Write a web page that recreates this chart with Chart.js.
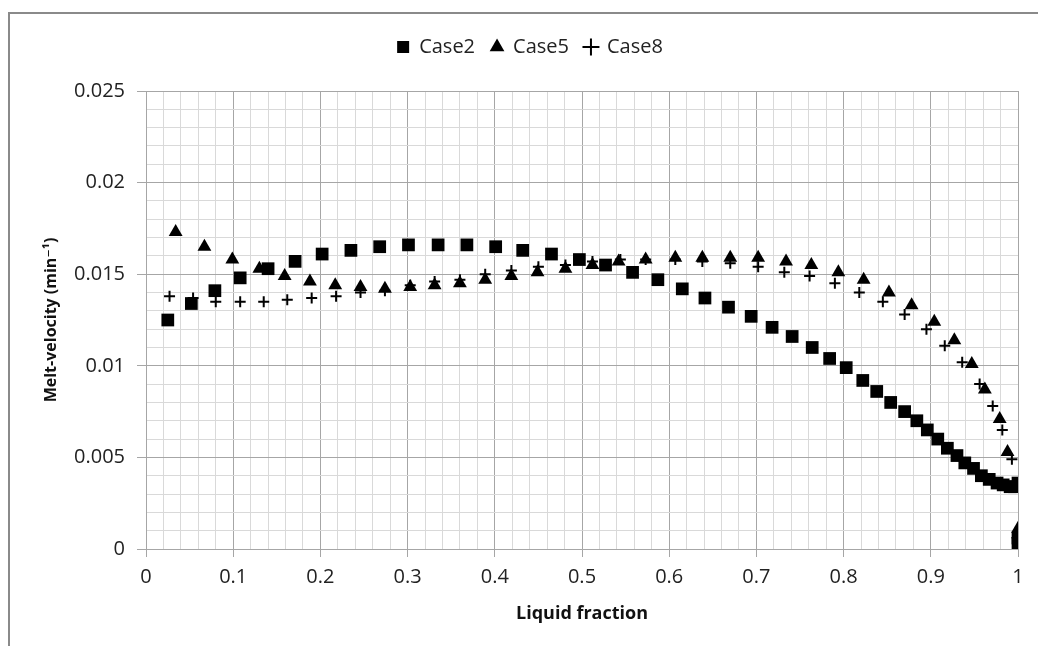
<!DOCTYPE html>
<html lang="en">

<head>
  <meta charset="UTF-8">
  <title>Melt velocity</title>
  <style>
    body { margin: 0; background: #fff; }
    #meltChart { display: block; }
  </style>
</head>

<body>
  <canvas id="meltChart" width="1038" height="646"></canvas>
</body>
<script src="https://cdn.jsdelivr.net/npm/chart.js@4.4.1/dist/chart.umd.min.js"></script>
<script>
// values
const case2X = [0.025, 0.052, 0.079, 0.108, 0.14, 0.171, 0.202, 0.235, 0.268, 0.301, 0.335, 0.368, 0.401, 0.432, 0.465, 0.497, 0.527, 0.558, 0.587, 0.615, 0.641, 0.668, 0.694, 0.718, 0.741, 0.764, 0.784, 0.803, 0.822, 0.838, 0.854, 0.87, 0.884, 0.896, 0.908, 0.919, 0.93, 0.939, 0.949, 0.958, 0.967, 0.976, 0.983, 0.991, 0.996, 1.0, 1.0, 1.0];
const case2Y = [0.0125, 0.0134, 0.0141, 0.0148, 0.0153, 0.0157, 0.0161, 0.0163, 0.0165, 0.0166, 0.0166, 0.0166, 0.0165, 0.0163, 0.0161, 0.0158, 0.0155, 0.0151, 0.0147, 0.0142, 0.0137, 0.0132, 0.0127, 0.0121, 0.0116, 0.011, 0.0104, 0.0099, 0.0092, 0.0086, 0.008, 0.0075, 0.007, 0.0065, 0.006, 0.0055, 0.0051, 0.0047, 0.0044, 0.004, 0.0038, 0.0036, 0.0035, 0.0034, 0.0034, 0.0036, 0.0006, 0.0003];

const case5X = [0.034, 0.067, 0.099, 0.13, 0.159, 0.188, 0.217, 0.246, 0.274, 0.303, 0.331, 0.36, 0.389, 0.419, 0.449, 0.481, 0.512, 0.542, 0.573, 0.607, 0.638, 0.67, 0.702, 0.734, 0.763, 0.794, 0.823, 0.852, 0.878, 0.904, 0.927, 0.947, 0.962, 0.979, 0.988, 1.0, 1.0];
const case5Y = [0.0173, 0.0165, 0.0158, 0.0153, 0.0149, 0.0146, 0.0144, 0.0143, 0.0142, 0.0143, 0.0144, 0.0145, 0.0147, 0.0149, 0.0151, 0.0153, 0.0155, 0.0157, 0.0158, 0.0159, 0.0159, 0.0159, 0.0159, 0.0157, 0.0155, 0.0151, 0.0147, 0.014, 0.0133, 0.0124, 0.0114, 0.0101, 0.0087, 0.0071, 0.0053, 0.0011, 0.0008];

const case8X = [0.027, 0.054, 0.08, 0.108, 0.135, 0.162, 0.19, 0.218, 0.246, 0.274, 0.303, 0.331, 0.36, 0.389, 0.419, 0.45, 0.481, 0.512, 0.544, 0.573, 0.607, 0.638, 0.67, 0.702, 0.732, 0.761, 0.79, 0.818, 0.845, 0.87, 0.895, 0.916, 0.936, 0.956, 0.971, 0.982, 0.993];
const case8Y = [0.0138, 0.0137, 0.0135, 0.0135, 0.0135, 0.0136, 0.0137, 0.0138, 0.014, 0.0141, 0.0144, 0.0146, 0.0147, 0.015, 0.0152, 0.0154, 0.0155, 0.0157, 0.0158, 0.0158, 0.0158, 0.0157, 0.0156, 0.0154, 0.0151, 0.0149, 0.0145, 0.014, 0.0135, 0.0128, 0.012, 0.0111, 0.0102, 0.009, 0.0078, 0.0065, 0.0049];

const seriesNames = ['Case2', 'Case5', 'Case8'];
const xTitle = 'Liquid fraction';
const yTitle = 'Melt-velocity (min\u207B\u00B9)';

const FONT = "'Open Sans', 'DejaVu Sans', sans-serif";
const MAJOR = '#a6a6a6';
const MINOR = '#d9d9d9';

const toPoints = (xs, ys) => xs.map((x, i) => ({ x: x, y: ys[i] }));
const isMajor = (v, step) => Math.abs(v / step - Math.round(v / step)) < 1e-6;

// excel-ish frame, cut off on the right and bottom
const frame = {
  id: 'frame',
  beforeDraw(chart) {
    const c = chart.ctx;
    c.save();
    c.strokeStyle = '#8a8a8a';
    c.lineWidth = 2;
    c.beginPath();
    c.moveTo(9, chart.height);
    c.lineTo(9, 13);
    c.lineTo(chart.width, 13);
    c.stroke();
    c.restore();
  }
};

// push the plot down below the legend
const legendGap = {
  id: 'legendGap',
  beforeInit(chart) {
    const fit = chart.legend.fit;
    chart.legend.fit = function () {
      fit.call(this);
      this.height += 24;
    };
  }
};

const ctx = document.getElementById('meltChart').getContext('2d');

const chart = new Chart(ctx, {
  type: 'scatter',
  data: {
    datasets: [{
      label: seriesNames[0],
      data: toPoints(case2X, case2Y),
      pointStyle: 'rect',
      pointRadius: 9,
      backgroundColor: '#000',
      borderColor: '#000',
      borderWidth: 0,
      order: 2
    }, {
      label: seriesNames[1],
      data: toPoints(case5X, case5Y),
      pointStyle: 'triangle',
      pointRadius: 8,
      backgroundColor: '#000',
      borderColor: '#000',
      borderWidth: 0,
      order: 1
    }, {
      label: seriesNames[2],
      data: toPoints(case8X, case8Y),
      pointStyle: 'cross',
      pointRadius: 5.5,
      backgroundColor: '#000',
      borderColor: '#000',
      borderWidth: 2,
      order: 0
    }]
  },
  options: {
    responsive: false,
    animation: false,
    layout: {
      padding: { left: 42, right: 20, top: 21, bottom: 21 }
    },
    plugins: {
      tooltip: { enabled: false },
      legend: {
        position: 'top',
        labels: {
          usePointStyle: true,
          boxWidth: 12,
          boxHeight: 12,
          padding: 16,
          color: '#222',
          font: { family: FONT, size: 20 },
          sort: (a, b) => a.datasetIndex - b.datasetIndex
        }
      }
    },
    scales: {
      x: {
        type: 'linear',
        min: 0,
        max: 1,
        afterFit(scale) { scale.height = 76; },
        border: { color: MAJOR },
        grid: {
          color: c => (c.tick && isMajor(c.tick.value, 0.1)) ? MAJOR : MINOR,
          tickColor: c => (c.tick && isMajor(c.tick.value, 0.1)) ? MAJOR : 'rgba(0,0,0,0)',
          tickLength: 8
        },
        ticks: {
          stepSize: 0.02,
          autoSkip: false,
          maxRotation: 0,
          padding: 8,
          color: '#222',
          font: { family: FONT, size: 20 },
          callback: v => isMajor(v, 0.1) ? String(Math.round(v * 10) / 10) : ''
        },
        title: {
          display: true,
          text: xTitle,
          color: '#111',
          padding: { top: 0, bottom: 0 },
          font: { family: FONT, size: 18, weight: 'bold' }
        }
      },
      y: {
        type: 'linear',
        min: 0,
        max: 0.025,
        afterFit(scale) { scale.width = 104; },
        border: { color: MAJOR },
        grid: {
          color: c => (c.tick && isMajor(c.tick.value, 0.005)) ? MAJOR : MINOR,
          tickColor: c => (c.tick && isMajor(c.tick.value, 0.005)) ? MAJOR : 'rgba(0,0,0,0)',
          tickLength: 9
        },
        ticks: {
          stepSize: 0.001,
          autoSkip: false,
          padding: 12,
          color: '#222',
          font: { family: FONT, size: 20 },
          callback: v => isMajor(v, 0.005) ? String(Math.round(v * 1000) / 1000) : ''
        },
        title: {
          display: true,
          text: yTitle,
          color: '#111',
          padding: { top: 0, bottom: 0 },
          font: { family: FONT, size: 16, weight: 'bold' }
        }
      }
    }
  },
  plugins: [frame, legendGap]
});
</script>

</html>
